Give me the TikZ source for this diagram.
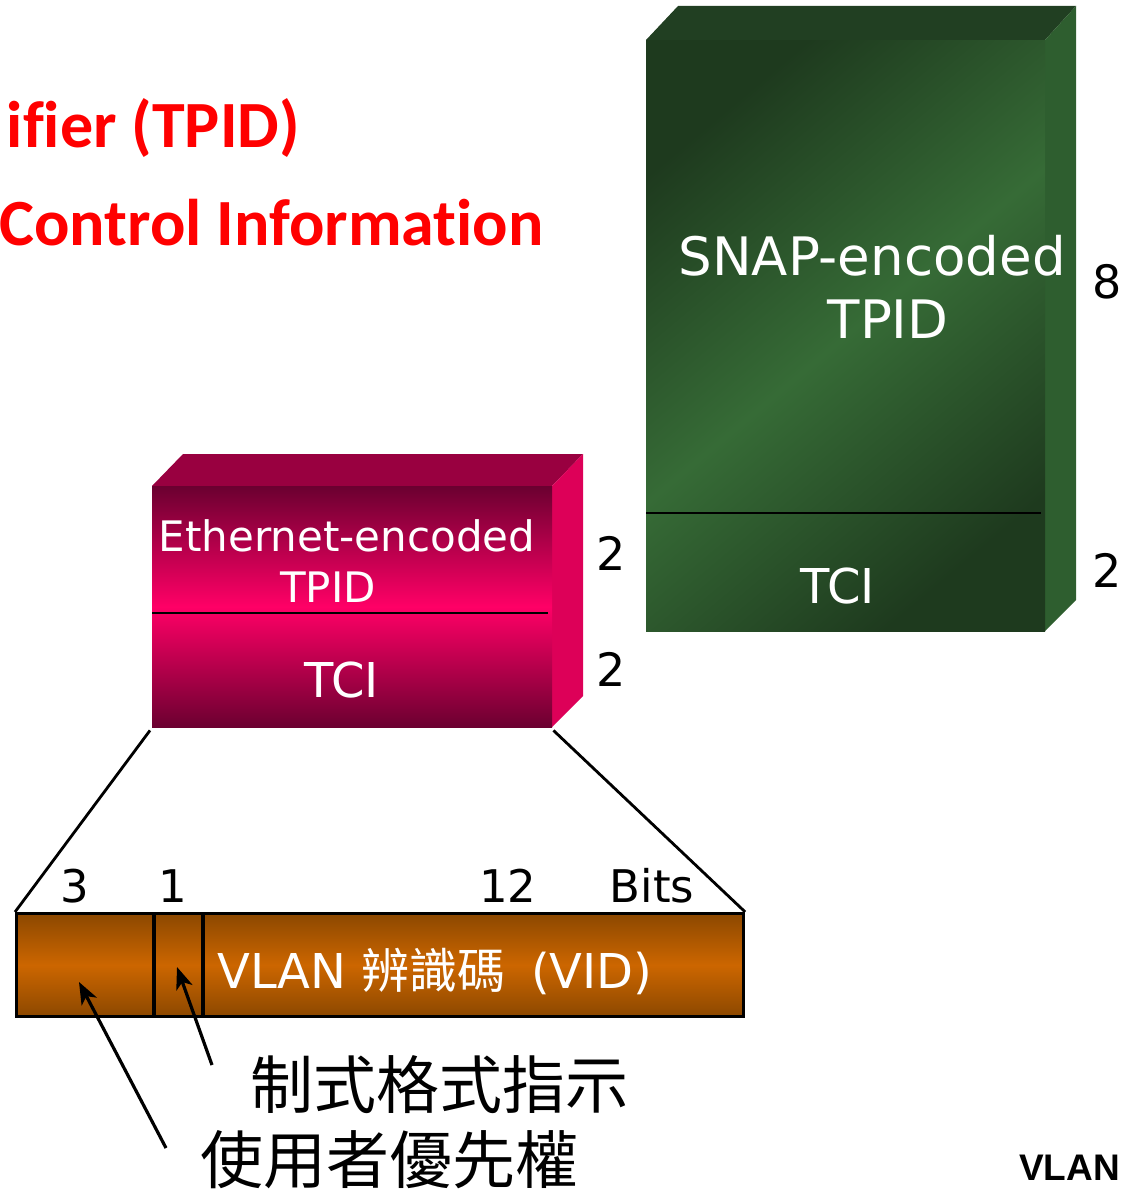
\documentclass[tikz,border=0pt]{standalone}
\usepackage{fontspec}
\setmainfont{DejaVu Sans}
\newfontfamily\cjk{Noto Sans CJK TC}
\newfontfamily\titlefont[Ligatures=NoCommon]{Carlito}
\newfontfamily\tagfont{Liberation Sans}
\usetikzlibrary{arrows.meta}

\definecolor{pinkdark}{HTML}{6B0030}
\definecolor{pinkbright}{HTML}{FF0066}
\definecolor{pinktop}{HTML}{990040}
\definecolor{pinkside}{HTML}{DD0058}
\definecolor{greendark}{HTML}{1E3A1E}
\definecolor{greenlight}{HTML}{366B36}
\definecolor{greentop}{HTML}{213F22}
\definecolor{greenside}{HTML}{2E5E2F}
\definecolor{orangedark}{HTML}{8C4800}
\definecolor{orangemid}{HTML}{CC6600}
\definecolor{titlered}{HTML}{FF0000}

\newcommand{\fs}[1]{\fontsize{#1}{#1}\selectfont}

\tikzset{
	facebox/.style={shape=rectangle, inner sep=0pt, anchor=north west},
	ethface/.style={facebox, top color=pinkdark, bottom color=pinkdark, middle color=pinkbright},
	snapface/.style={facebox, top color=greendark, bottom color=greendark, middle color=greenlight, shading angle=40},
	vidbar/.style={facebox, draw=black, line width=3.2pt, top color=orangedark, bottom color=orangedark, middle color=orangemid},
	fieldtext/.style={inner sep=0pt, anchor=base, text=white},
	sizetext/.style={inner sep=0pt, anchor=base},
	pointer/.style={-{Stealth[length=22pt,width=17pt,inset=6pt]}, line width=3.2pt},
}

\begin{document}
\begin{tikzpicture}[x=1pt, y=-1pt]
	\useasboundingbox (0,0) rectangle (1130,1190);

	% headings, cut at the left edge
	\draw (300,148) node[inner sep=0pt, anchor=base east, text=titlered](tpidhead){\titlefont\bfseries\fs{66}ifier (TPID)};
	\draw (-1,245) node[inner sep=0pt, anchor=base west, text=titlered](tcihead){\titlefont\bfseries\fs{66}Control Information};

	% Ethernet-encoded tag
	\fill[pinktop] (152,486) -- (183,454) -- (583,454) -- (552,486) -- cycle;
	\fill[pinkside] (552,486) -- (583,454) -- (583,696) -- (552,727) -- cycle;
	\draw (152,486) node[ethface, minimum width=400pt, minimum height=241pt](eth){};
	\draw[line width=2.8pt] (152,613) -- (548,613);
	\draw (347,551) node[fieldtext](ethtpid){\fs{42}Ethernet-encoded};
	\draw (328,602) node[fieldtext](ethtpidb){\fs{42}TPID};
	\draw (342,697) node[fieldtext](ethtci){\fs{48}TCI};
	\draw (611,570) node[sizetext](ethtpidlen){\fs{46}2};
	\draw (611,686) node[sizetext](ethtcilen){\fs{46}2};

	% SNAP-encoded tag
	\fill[greentop] (646,40) -- (678,6) -- (1076,6) -- (1045,40) -- cycle;
	\fill[greenside] (1045,40) -- (1076,6) -- (1076,600) -- (1045,631) -- cycle;
	\draw (646,40) node[snapface, minimum width=399pt, minimum height=591pt](snap){};
	\draw[line width=2.8pt] (646,513) -- (1041,513);
	\draw (872,275) node[fieldtext](snaptpid){\fs{53}SNAP-encoded};
	\draw (888,338) node[fieldtext](snaptpidb){\fs{53}TPID};
	\draw (838,603) node[fieldtext](snaptci){\fs{48}TCI};
	\draw (1107,298) node[sizetext](snaptpidlen){\fs{46}8};
	\draw (1107,587) node[sizetext](snaptcilen){\fs{46}2};

	% TCI bits
	\draw (15,912) node[vidbar, minimum width=727pt, minimum height=103pt](bar){};
	\draw[line width=3.2pt] (154,912) -- (154,1015);
	\draw[line width=3.2pt] (203,912) -- (203,1015);
	\draw (217,988) node[inner sep=0pt, anchor=base west, text=white](vid){\fs{48}VLAN {\cjk 辨識碼}\hspace{10pt} (VID)};

	\draw[line width=2.8pt] ([shift={(-2,3)}]eth.south west) -- (bar.north west);
	\draw[line width=2.8pt] ([shift={(1,3)}]eth.south east) -- (bar.north east);

	\draw (75,902) node[sizetext](pcplen){\fs{45}3};
	\draw (173,902) node[sizetext](cfilen){\fs{45}1};
	\draw (508,902) node[sizetext](vidlen){\fs{45}12};
	\draw (652,902) node[sizetext](bitsword){\fs{45}Bits};

	% field names
	\draw (250,1085) node[inner sep=0pt, anchor=west](cfi){\cjk\fs{63}制式格式指示};
	\draw (200,1160) node[inner sep=0pt, anchor=west](pcp){\cjk\fs{63}使用者優先權};
	\coordinate (cfitail) at (212,1065);
	\coordinate (cfihead) at (177,967);
	\coordinate (pcptail) at (166,1148);
	\coordinate (pcphead) at (79,982);
	\draw[pointer] (cfitail) -- (cfihead);
	\draw[pointer] (pcptail) -- (pcphead);

	\draw (1120,1180) node[inner sep=0pt, anchor=base east](vlantag){\tagfont\bfseries\fs{37}VLAN};
\end{tikzpicture}
\end{document}
